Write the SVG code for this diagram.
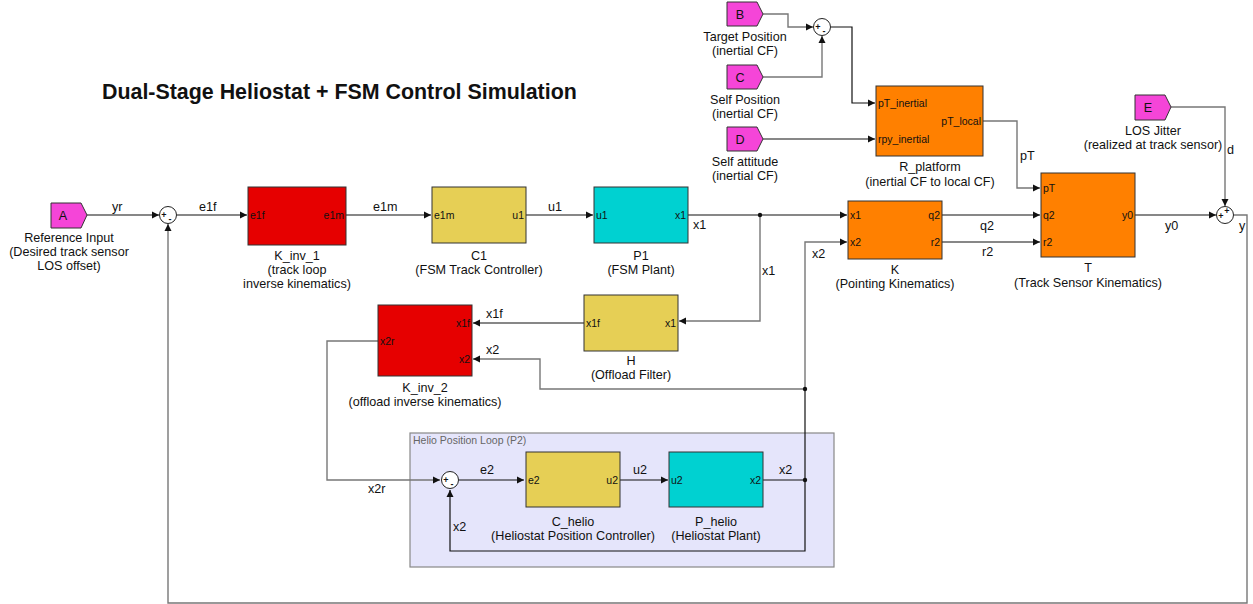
<svg xmlns="http://www.w3.org/2000/svg" width="1253" height="604" viewBox="0 0 1253 604">
  <style>
    text { font-family: "Liberation Sans", Arial, sans-serif; fill: #111; }
    .lbl { font-size: 12.6px; text-anchor: middle; }
    .sig { font-size: 12.6px; }
    .port { font-size: 10.5px; }
    .portr { font-size: 10.5px; text-anchor: end; }
    .title { font-size: 21.4px; font-weight: bold; }
    .blk { stroke: #333; stroke-width: 1; }
    .red { fill: #e60000; }
    .yel { fill: #e6cf55; }
    .cyan { fill: #00d1d1; }
    .org { fill: #ff8000; }
    .inp { fill: #f545d8; stroke: #333; stroke-width: 1; }
    .sum { fill: #fff; stroke: #222; stroke-width: 1; }
    .w { fill: none; stroke: #111; stroke-width: 1.2; }
    .g { fill: none; stroke: #777; stroke-width: 1.4; }
    .sgn { font-size: 9px; font-weight: bold; text-anchor: middle; }
  </style>
  <defs>
    <marker id="ah" markerWidth="8" markerHeight="8" refX="7" refY="4" orient="auto" markerUnits="userSpaceOnUse">
      <path d="M0,0.5 L7,4 L0,7.5 Z" fill="#111"/>
    </marker>
  </defs>

  <rect width="1253" height="604" fill="#fff"/>

  <text class="title" x="102" y="99">Dual-Stage Heliostat + FSM Control Simulation</text>

  <!-- subsystem area -->
  <g id="helio-loop">
    <rect x="410" y="433" width="424" height="134" fill="#e5e5fb" stroke="#888" stroke-width="1.2"/>
    <text x="413" y="444" style="font-size:10.5px; fill:#666;">Helio Position Loop (P2)</text>
  </g>

  <!-- connectors -->
  <g id="connectors">
    <path class="w" d="M87,215 H159" marker-end="url(#ah)"/>
    <path class="w" d="M177,215 H247" marker-end="url(#ah)"/>
    <path class="w" d="M346,215 H431" marker-end="url(#ah)"/>
    <path class="w" d="M526,215 H593" marker-end="url(#ah)"/>
    <path class="w" d="M688,215 H847" marker-end="url(#ah)"/>
    <path class="g" d="M760,215 V321 H679" marker-end="url(#ah)"/>
    <circle cx="760" cy="215" r="2.2" fill="#111"/>
    <path class="w" d="M584,323 H473" marker-end="url(#ah)"/>
    <path class="g" d="M805,389 H540 V359 H473" marker-end="url(#ah)"/>
    <path class="g" d="M378,341 H327 V480 H440" marker-end="url(#ah)"/>
    <path class="w" d="M459,480 H524" marker-end="url(#ah)"/>
    <path class="w" d="M620,480 H668" marker-end="url(#ah)"/>
    <path class="w" d="M763,480 H805 V551 H450 V490" marker-end="url(#ah)"/>
    <path class="w" d="M805,480 V389"/>
    <path class="g" d="M805,389 V242 H847" marker-end="url(#ah)"/>
    <circle cx="805" cy="480" r="2.2" fill="#111"/>
    <circle cx="805" cy="389" r="2.2" fill="#111"/>
    <path class="w" d="M942,215 H1040" marker-end="url(#ah)"/>
    <path class="w" d="M942,242 H1040" marker-end="url(#ah)"/>
    <path class="w" d="M1135,215 H1216" marker-end="url(#ah)"/>
    <path class="g" d="M1171,107 H1225 V206" marker-end="url(#ah)"/>
    <path class="g" d="M1234,215 H1247 V603 H168 V224" marker-end="url(#ah)"/>
    <path class="g" d="M763,14 H788 V27 H813" marker-end="url(#ah)"/>
    <path class="g" d="M763,77 H822 V36" marker-end="url(#ah)"/>
    <path class="w" d="M831,27 H852 V103 H875" marker-end="url(#ah)"/>
    <path class="w" d="M763,139 H875" marker-end="url(#ah)"/>
    <path class="g" d="M983,121 H1017 V188 H1040" marker-end="url(#ah)"/>

    <text class="sig" x="112" y="211">yr</text>
    <text class="sig" x="199" y="211">e1f</text>
    <text class="sig" x="373" y="211">e1m</text>
    <text class="sig" x="548" y="211">u1</text>
    <text class="sig" x="693" y="229">x1</text>
    <text class="sig" x="762" y="275">x1</text>
    <text class="sig" x="486" y="318">x1f</text>
    <text class="sig" x="486" y="354">x2</text>
    <text class="sig" x="368" y="493">x2r</text>
    <text class="sig" x="480" y="474">e2</text>
    <text class="sig" x="633" y="474">u2</text>
    <text class="sig" x="779" y="474">x2</text>
    <text class="sig" x="453" y="531">x2</text>
    <text class="sig" x="812" y="258">x2</text>
    <text class="sig" x="980" y="230">q2</text>
    <text class="sig" x="982" y="256">r2</text>
    <text class="sig" x="1165" y="230">y0</text>
    <text class="sig" x="1239" y="230">y</text>
    <text class="sig" x="1227" y="154">d</text>
    <text class="sig" x="1020" y="160">pT</text>
  </g>

  <!-- sum junctions -->
  <g id="sum-track">
    <circle class="sum" cx="168" cy="215" r="8.5"/>
    <text class="sgn" x="164" y="218">+</text>
    <text class="sgn" x="170" y="222">-</text>
  </g>
  <g id="sum-los">
    <circle class="sum" cx="1225" cy="215" r="8.5"/>
    <text class="sgn" x="1221" y="219">+</text>
    <text class="sgn" x="1227" y="214">+</text>
  </g>
  <g id="sum-rel">
    <circle class="sum" cx="822" cy="27" r="8.5"/>
    <text class="sgn" x="818" y="30">+</text>
    <text class="sgn" x="824" y="34">-</text>
  </g>
  <g id="sum-helio">
    <circle class="sum" cx="450" cy="480" r="8.5"/>
    <text class="sgn" x="446" y="483">+</text>
    <text class="sgn" x="452" y="487">-</text>
  </g>

  <!-- input ports -->
  <g id="in-A">
    <path class="inp" d="M51,203 H81 L87,215 L81,228 H51 Z"/>
    <text x="63" y="220" style="font-size:12.6px; text-anchor:middle;">A</text>
    <text class="lbl" x="69" y="242">Reference Input</text>
    <text class="lbl" x="69" y="256">(Desired track sensor</text>
    <text class="lbl" x="69" y="270">LOS offset)</text>
  </g>
  <g id="in-B">
    <path class="inp" d="M727,2 H757 L763,14 L757,26 H727 Z"/>
    <text x="740" y="19" style="font-size:12.6px; text-anchor:middle;">B</text>
    <text class="lbl" x="745" y="41">Target Position</text>
    <text class="lbl" x="745" y="55">(inertial CF)</text>
  </g>
  <g id="in-C">
    <path class="inp" d="M727,65 H757 L763,77 L757,89 H727 Z"/>
    <text x="740" y="82" style="font-size:12.6px; text-anchor:middle;">C</text>
    <text class="lbl" x="745" y="104">Self Position</text>
    <text class="lbl" x="745" y="118">(inertial CF)</text>
  </g>
  <g id="in-D">
    <path class="inp" d="M727,127 H757 L763,139 L757,151 H727 Z"/>
    <text x="740" y="144" style="font-size:12.6px; text-anchor:middle;">D</text>
    <text class="lbl" x="745" y="166">Self attitude</text>
    <text class="lbl" x="745" y="180">(inertial CF)</text>
  </g>
  <g id="in-E">
    <path class="inp" d="M1135,95 H1165 L1171,107 L1165,120 H1135 Z"/>
    <text x="1148" y="112" style="font-size:12.6px; text-anchor:middle;">E</text>
    <text class="lbl" x="1153" y="135">LOS Jitter</text>
    <text class="lbl" x="1153" y="149">(realized at track sensor)</text>
  </g>

  <!-- blocks -->
  <g id="K_inv_1">
    <rect class="blk red" x="248" y="187" width="98" height="58"/>
    <text class="port" x="250" y="219">e1f</text>
    <text class="portr" x="344" y="219">e1m</text>
    <text class="lbl" x="297" y="260">K_inv_1</text>
    <text class="lbl" x="297" y="274">(track loop</text>
    <text class="lbl" x="297" y="288">inverse kinematics)</text>
  </g>
  <g id="C1">
    <rect class="blk yel" x="432" y="187" width="94" height="56"/>
    <text class="port" x="434" y="219">e1m</text>
    <text class="portr" x="524" y="219">u1</text>
    <text class="lbl" x="479" y="260">C1</text>
    <text class="lbl" x="479" y="274">(FSM Track Controller)</text>
  </g>
  <g id="P1">
    <rect class="blk cyan" x="594" y="187" width="94" height="56"/>
    <text class="port" x="596" y="219">u1</text>
    <text class="portr" x="686" y="219">x1</text>
    <text class="lbl" x="641" y="260">P1</text>
    <text class="lbl" x="641" y="274">(FSM Plant)</text>
  </g>
  <g id="K">
    <rect class="blk org" x="848" y="201" width="94" height="58"/>
    <text class="port" x="850" y="219">x1</text>
    <text class="port" x="850" y="246">x2</text>
    <text class="portr" x="940" y="219">q2</text>
    <text class="portr" x="940" y="246">r2</text>
    <text class="lbl" x="895" y="274">K</text>
    <text class="lbl" x="895" y="288">(Pointing Kinematics)</text>
  </g>
  <g id="T">
    <rect class="blk org" x="1041" y="173" width="94" height="84"/>
    <text class="port" x="1043" y="192">pT</text>
    <text class="port" x="1043" y="219">q2</text>
    <text class="port" x="1043" y="246">r2</text>
    <text class="portr" x="1133" y="219">y0</text>
    <text class="lbl" x="1088" y="272">T</text>
    <text class="lbl" x="1088" y="287">(Track Sensor Kinematics)</text>
  </g>
  <g id="R_platform">
    <rect class="blk org" x="876" y="86" width="107" height="70"/>
    <text class="port" x="878" y="107">pT_inertial</text>
    <text class="port" x="878" y="143">rpy_inertial</text>
    <text class="portr" x="981" y="125">pT_local</text>
    <text class="lbl" x="930" y="171">R_platform</text>
    <text class="lbl" x="930" y="186">(inertial CF to local CF)</text>
  </g>
  <g id="H">
    <rect class="blk yel" x="584" y="295" width="94" height="56"/>
    <text class="port" x="586" y="327">x1f</text>
    <text class="portr" x="676" y="327">x1</text>
    <text class="lbl" x="631" y="365">H</text>
    <text class="lbl" x="631" y="379">(Offload Filter)</text>
  </g>
  <g id="K_inv_2">
    <rect class="blk red" x="378" y="305" width="94" height="71"/>
    <text class="portr" x="470" y="327">x1f</text>
    <text class="port" x="380" y="345">x2r</text>
    <text class="portr" x="470" y="363">x2</text>
    <text class="lbl" x="425" y="392">K_inv_2</text>
    <text class="lbl" x="425" y="406">(offload inverse kinematics)</text>
  </g>
  <g id="C_helio">
    <rect class="blk yel" x="526" y="452" width="94" height="55"/>
    <text class="port" x="528" y="484">e2</text>
    <text class="portr" x="618" y="484">u2</text>
    <text class="lbl" x="573" y="526">C_helio</text>
    <text class="lbl" x="573" y="540">(Heliostat Position Controller)</text>
  </g>
  <g id="P_helio">
    <rect class="blk cyan" x="669" y="452" width="94" height="55"/>
    <text class="port" x="671" y="484">u2</text>
    <text class="portr" x="761" y="484">x2</text>
    <text class="lbl" x="716" y="526">P_helio</text>
    <text class="lbl" x="716" y="540">(Heliostat Plant)</text>
  </g>
</svg>
